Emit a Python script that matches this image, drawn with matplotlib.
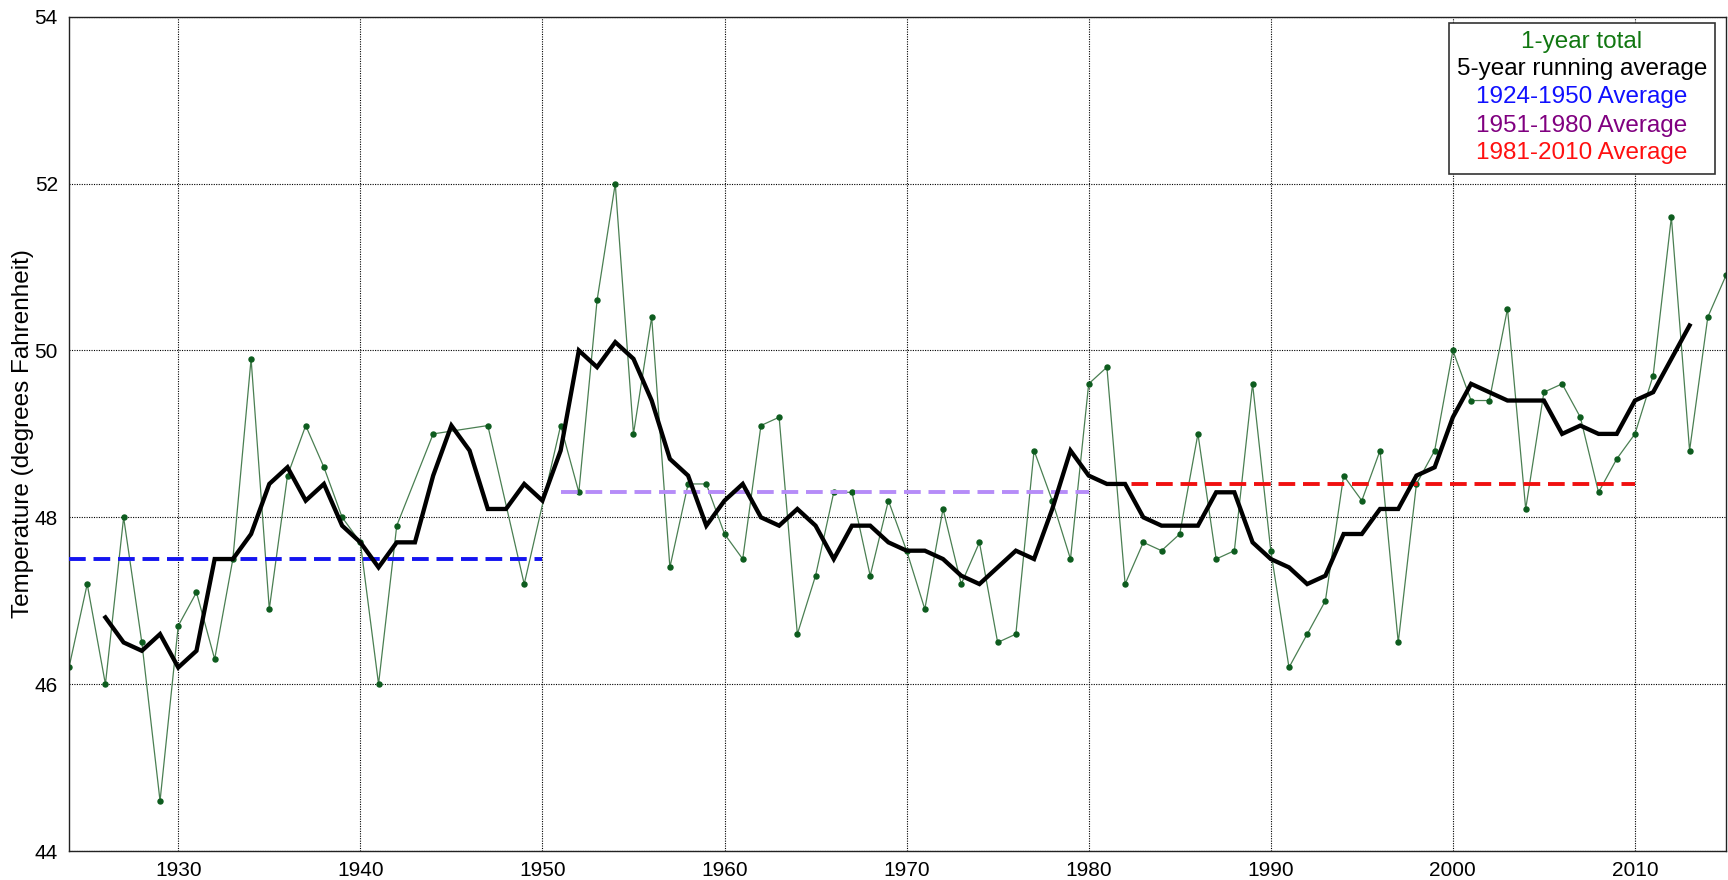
import numpy as np
import matplotlib
matplotlib.use("Agg")
import matplotlib.pyplot as plt
from matplotlib.patches import Rectangle

plt.rcParams['font.family'] = ['Liberation Sans', 'DejaVu Sans']

# ---- data ----
years_total = [1924, 1925, 1926, 1927, 1928, 1929, 1930, 1931, 1932, 1933,
               1934, 1935, 1936, 1937, 1938, 1939, 1940, 1941, 1942, 1944,
               1947, 1949, 1951, 1952, 1953, 1954, 1955, 1956, 1957, 1958,
               1959, 1960, 1961, 1962, 1963, 1964, 1965, 1966, 1967, 1968,
               1969, 1970, 1971, 1972, 1973, 1974, 1975, 1976, 1977, 1978,
               1979, 1980, 1981, 1982, 1983, 1984, 1985, 1986, 1987, 1988,
               1989, 1990, 1991, 1992, 1993, 1994, 1995, 1996, 1997, 1998,
               1999, 2000, 2001, 2002, 2003, 2004, 2005, 2006, 2007, 2008,
               2009, 2010, 2011, 2012, 2013, 2014, 2015]
temps_total = [46.2, 47.2, 46.0, 48.0, 46.5, 44.6, 46.7, 47.1, 46.3, 47.5,
               49.9, 46.9, 48.5, 49.1, 48.6, 48.0, 47.7, 46.0, 47.9, 49.0,
               49.1, 47.2, 49.1, 48.3, 50.6, 52.0, 49.0, 50.4, 47.4, 48.4,
               48.4, 47.8, 47.5, 49.1, 49.2, 46.6, 47.3, 48.3, 48.3, 47.3,
               48.2, 47.6, 46.9, 48.1, 47.2, 47.7, 46.5, 46.6, 48.8, 48.2,
               47.5, 49.6, 49.8, 47.2, 47.7, 47.6, 47.8, 49.0, 47.5, 47.6,
               49.6, 47.6, 46.2, 46.6, 47.0, 48.5, 48.2, 48.8, 46.5, 48.4,
               48.8, 50.0, 49.4, 49.4, 50.5, 48.1, 49.5, 49.6, 49.2, 48.3,
               48.7, 49.0, 49.7, 51.6, 48.8, 50.4, 50.9]

years_running = list(range(1926, 2014))
temps_running = [46.8, 46.5, 46.4, 46.6, 46.2, 46.4, 47.5, 47.5, 47.8, 48.4,
                 48.6, 48.2, 48.4, 47.9, 47.7, 47.4, 47.7, 47.7, 48.5, 49.1,
                 48.8, 48.1, 48.1, 48.4, 48.2, 48.8, 50.0, 49.8, 50.1, 49.9,
                 49.4, 48.7, 48.5, 47.9, 48.2, 48.4, 48.0, 47.9, 48.1, 47.9,
                 47.5, 47.9, 47.9, 47.7, 47.6, 47.6, 47.5, 47.3, 47.2, 47.4,
                 47.6, 47.5, 48.1, 48.8, 48.5, 48.4, 48.4, 48.0, 47.9, 47.9,
                 47.9, 48.3, 48.3, 47.7, 47.5, 47.4, 47.2, 47.3, 47.8, 47.8,
                 48.1, 48.1, 48.5, 48.6, 49.2, 49.6, 49.5, 49.4, 49.4, 49.4,
                 49.0, 49.1, 49.0, 49.0, 49.4, 49.5, 49.9, 50.3]

period_labels = ['1924-1950 Average', '1951-1980 Average', '1981-2010 Average']
period_starts = [1924, 1951, 1981]
period_ends = [1950, 1980, 2010]
period_means = [47.5, 48.3, 48.4]

legend_labels = ['1-year total', '5-year running average'] + period_labels
x_ticks = [1930, 1940, 1950, 1960, 1970, 1980, 1990, 2000, 2010]
y_ticks = [44, 46, 48, 50, 52, 54]

# ---- styles ----
period_line_colors = ['#1414f0', '#b68cf8', '#f01010']
legend_colors = ['#117711', '#000000', '#1010ff', '#800080', '#ff1010']

fig = plt.figure(figsize=(17.28, 8.8), dpi=100)
fig.patch.set_facecolor('white')
ax = fig.add_axes([69 / 1728, 29 / 880, 1657 / 1728, 834.2 / 880])

ax.plot(years_total, temps_total, color='#4a7f52', lw=0.9, zorder=2)
ax.plot(years_total, temps_total, ls='none', marker='o', ms=3.6,
        color='#0d5c1e', mec='#0d5c1e', zorder=2.5)

for s, e, m, c in zip(period_starts, period_ends, period_means, period_line_colors):
    ax.plot([s, e], [m, m], color=c, lw=2.8, dashes=(4.3, 2.0), zorder=3)

ax.plot(years_running, temps_running, color='black', lw=3.1, zorder=4,
        solid_joinstyle='miter')

ax.set_xlim(1924, 2015)
ax.set_ylim(44, 54)
ax.set_xticks(x_ticks)
ax.set_yticks(y_ticks)
ax.tick_params(axis='both', length=0, labelsize=15, colors='black')
ax.tick_params(axis='x', pad=7)
ax.tick_params(axis='y', pad=8)
ax.grid(True, color='black', ls=(0, (1, 1.2)), lw=0.8)
ax.set_axisbelow(True)
for sp in ax.spines.values():
    sp.set_color('#222222')
    sp.set_linewidth(1.0)

ax.set_ylabel('Temperature (degrees Fahrenheit)', fontsize=17.5)
ax.yaxis.set_label_coords(-0.021, 0.5)

# legend box (text-only, centered lines)
bx0, bx1 = (1449 - 69) / 1657, (1715 - 69) / 1657
by0, by1 = (851 - 174) / 834.2, (851 - 23) / 834.2
ax.add_patch(Rectangle((bx0, by0), bx1 - bx0, by1 - by0, transform=ax.transAxes,
                       facecolor='white', edgecolor='#333333', lw=1.2, zorder=10))
line_y = [(851 - y) / 834.2 for y in [41.7, 69.3, 97.3, 125.7, 153.3]]
cx = (1582 - 69) / 1657
for lab, col, yy in zip(legend_labels, legend_colors, line_y):
    ax.text(cx, yy, lab, transform=ax.transAxes, ha='center', va='center',
            fontsize=17.5, color=col, zorder=11)

fig.savefig('out.png', dpi=100, facecolor='white')
